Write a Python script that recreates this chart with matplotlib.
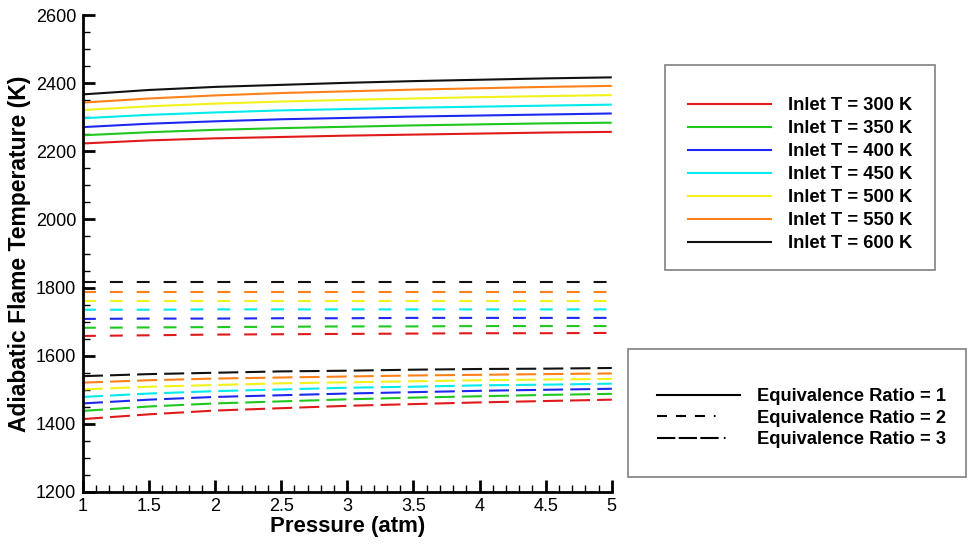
import numpy as np
import matplotlib
matplotlib.use("Agg")
import matplotlib.pyplot as plt
from matplotlib.lines import Line2D
from matplotlib.patches import Rectangle
from matplotlib.ticker import MultipleLocator

plt.rcParams['font.family'] = ['Liberation Sans', 'DejaVu Sans']

# pressure (atm)
pressure = [1, 1.5, 2, 2.5, 3, 3.5, 4, 4.5, 5]
inlet_temps = [300, 350, 400, 450, 500, 550, 600]
colors = ['#e01a1a', '#1ec81e', '#1e28f0', '#00ecec', '#f2f21a', '#ff8019', '#111111']

# adiabatic flame temperature (K), one row per inlet temperature
phi1 = [
    [2223, 2232, 2238, 2242, 2246, 2249, 2252, 2255, 2257],
    [2247, 2256, 2263, 2268, 2272, 2276, 2279, 2282, 2284],
    [2271, 2281, 2288, 2294, 2298, 2302, 2305, 2308, 2311],
    [2297, 2307, 2314, 2320, 2324, 2328, 2331, 2334, 2337],
    [2321, 2332, 2340, 2346, 2351, 2355, 2359, 2362, 2365],
    [2343, 2355, 2364, 2371, 2376, 2381, 2385, 2389, 2392],
    [2367, 2380, 2389, 2395, 2401, 2406, 2410, 2414, 2417],
]
phi2 = [
    [1658, 1660, 1662, 1663, 1664, 1665, 1666, 1666, 1667],
    [1682, 1683, 1684, 1685, 1686, 1686, 1687, 1687, 1687],
    [1708, 1709, 1709, 1710, 1710, 1711, 1711, 1711, 1711],
    [1735, 1735, 1736, 1736, 1736, 1736, 1736, 1736, 1736],
    [1762, 1762, 1762, 1762, 1762, 1762, 1762, 1762, 1762],
    [1788, 1788, 1788, 1788, 1788, 1788, 1788, 1788, 1788],
    [1817, 1817, 1817, 1817, 1817, 1817, 1817, 1817, 1817],
]
phi3 = [
    [1414, 1428, 1439, 1446, 1453, 1458, 1463, 1467, 1471],
    [1438, 1451, 1460, 1466, 1472, 1477, 1481, 1485, 1488],
    [1460, 1471, 1479, 1484, 1489, 1493, 1497, 1500, 1503],
    [1479, 1489, 1496, 1501, 1506, 1509, 1513, 1515, 1518],
    [1501, 1509, 1514, 1519, 1522, 1525, 1528, 1530, 1532],
    [1521, 1528, 1533, 1536, 1539, 1542, 1544, 1546, 1548],
    [1540, 1546, 1550, 1554, 1556, 1559, 1561, 1562, 1564],
]

fig = plt.figure(figsize=(9.68, 5.44), dpi=100)
ax = fig.add_axes([0.0857, 0.0956, 0.5463, 0.8768])

lw = 1.5
style2 = (0, (6.2, 6.7))
style3 = (0, (9.6, 3.4))
for i, c in enumerate(colors):
    ax.plot(pressure, phi1[i], color=c, lw=lw, solid_capstyle='butt')
    ax.plot(pressure, phi2[i], color=c, lw=lw, linestyle=style2)
    ax.plot(pressure, phi3[i], color=c, lw=lw, linestyle=style3)

ax.set_xlim(1, 5)
ax.set_ylim(1200, 2600)
ax.xaxis.set_major_locator(MultipleLocator(0.5))
ax.xaxis.set_minor_locator(MultipleLocator(0.1))
ax.yaxis.set_major_locator(MultipleLocator(200))
ax.yaxis.set_minor_locator(MultipleLocator(50))
ax.set_xticks(np.arange(1, 5.01, 0.5))
ax.set_xticklabels(['1', '1.5', '2', '2.5', '3', '3.5', '4', '4.5', '5'])

for s in ['top', 'right']:
    ax.spines[s].set_visible(False)
for s in ['left', 'bottom']:
    ax.spines[s].set_linewidth(2)
ax.tick_params(which='major', direction='in', length=8.5, width=2, labelsize=13)
ax.tick_params(which='minor', direction='in', length=5, width=1)
ax.tick_params(axis='x', which='major', pad=4)
ax.tick_params(axis='y', which='major', pad=5)

ax.set_xlabel('Pressure (atm)', fontsize=16, fontweight='bold', labelpad=1)
ax.set_ylabel('Adiabatic Flame Temperature (K)', fontsize=16.5, fontweight='bold', labelpad=3)

# legend frames
fig.patches.append(Rectangle((0.687, 0.5037), 0.279, 0.3768, transform=fig.transFigure,
                             fill=False, edgecolor='#808080', lw=1.2))
fig.patches.append(Rectangle((0.6488, 0.1232), 0.349, 0.2353, transform=fig.transFigure,
                             fill=False, edgecolor='#808080', lw=1.2))

h1 = [Line2D([], [], color=c, lw=lw) for c in colors]
l1 = ['Inlet T = %d K' % t for t in inlet_temps]
fig.legend(h1, l1, loc='upper left', bbox_to_anchor=(0.7107, 0.8217), frameon=False,
           prop={'size': 13.2, 'weight': 'bold'}, handlelength=4.55, handletextpad=0.88,
           labelspacing=0.33, borderpad=0, borderaxespad=0)

h2 = [Line2D([], [], color='black', lw=lw),
      Line2D([], [], color='black', lw=lw, linestyle=(0, (4.8, 4.3, 4.8, 4.3, 4.8, 4.3, 0.8, 30))),
      Line2D([], [], color='black', lw=lw, linestyle=(0, (8.8, 1.6, 8.8, 1.6, 8.8, 2.5, 0.8, 30)))]
l2 = ['Equivalence Ratio = 1', 'Equivalence Ratio = 2', 'Equivalence Ratio = 3']
fig.legend(h2, l2, loc='upper left', bbox_to_anchor=(0.6787, 0.2868), frameon=False,
           prop={'size': 13.2, 'weight': 'bold'}, handlelength=4.55, handletextpad=0.93,
           labelspacing=0.25, borderpad=0, borderaxespad=0)

fig.savefig('out.png', dpi=100)
